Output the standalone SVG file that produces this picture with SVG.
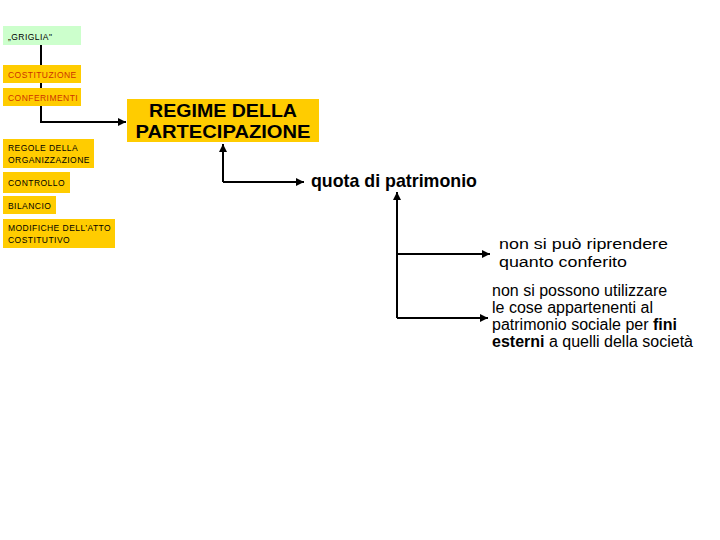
<svg xmlns="http://www.w3.org/2000/svg" width="720" height="540" viewBox="0 0 720 540">
<defs>
<marker id="ah" viewBox="0 0 10 10" refX="10" refY="5" markerWidth="4" markerHeight="4" orient="auto" markerUnits="strokeWidth">
<path d="M0,0 L10,5 L0,10 z" fill="#000"/>
</marker>
<style>
.box{fill:#ffcc00}
.green{fill:#ccffcc}
.sm{font-family:"Liberation Sans",Arial,sans-serif;font-size:8.5px;letter-spacing:0.45px;fill:#000}
.red{fill:#cc3300}
.big{font-family:"Liberation Sans",Arial,sans-serif;font-size:18px;font-weight:bold;fill:#000;text-anchor:middle}
.q{font-family:"Liberation Sans",Arial,sans-serif;font-size:17.8px;font-weight:bold;fill:#000}
.t{font-family:"Liberation Sans",Arial,sans-serif;font-size:16px;fill:#000}
.t2{font-family:"Liberation Sans",Arial,sans-serif;font-size:15.5px;fill:#000}
.ln{stroke:#000;stroke-width:2;fill:none}
</style>
</defs>
<rect width="720" height="540" fill="#fff"/>
<g id="connectors">
<line class="ln" x1="41" y1="45" x2="41" y2="66"/>
<line class="ln" x1="41" y1="83" x2="41" y2="88"/>
<path class="ln" d="M41,106 V122 H126" marker-end="url(#ah)"/>
<path class="ln" d="M223,182 V144" marker-end="url(#ah)"/>
<path class="ln" d="M223,182 H304" marker-end="url(#ah)"/>
<path class="ln" d="M397,318 V192" marker-end="url(#ah)"/>
<path class="ln" d="M397,254 H490" marker-end="url(#ah)"/>
<path class="ln" d="M397,318 H488" marker-end="url(#ah)"/>
</g>
<g id="griglia"><rect class="green" x="3" y="26" width="78" height="19"/><text class="sm" x="8" y="40">„GRIGLIA"</text></g>
<g id="costituzione"><rect class="box" x="3" y="65" width="78" height="18"/><text class="sm red" x="8" y="78">COSTITUZIONE</text></g>
<g id="conferimenti"><rect class="box" x="3" y="88" width="78" height="18"/><text class="sm red" x="8" y="101">CONFERIMENTI</text></g>
<g id="regime"><rect class="box" x="127" y="99" width="192" height="43"/><text class="big" x="223" y="117" textLength="148" lengthAdjust="spacingAndGlyphs">REGIME DELLA</text><text class="big" x="223" y="138" textLength="175" lengthAdjust="spacingAndGlyphs">PARTECIPAZIONE</text></g>
<g id="regole"><rect class="box" x="3" y="139" width="91" height="29"/><text class="sm" x="8" y="151">REGOLE DELLA</text><text class="sm" x="8" y="163">ORGANIZZAZIONE</text></g>
<g id="controllo"><rect class="box" x="3" y="172" width="67" height="21"/><text class="sm" x="8" y="186">CONTROLLO</text></g>
<g id="bilancio"><rect class="box" x="3" y="196" width="53" height="18"/><text class="sm" x="8" y="209">BILANCIO</text></g>
<g id="modifiche"><rect class="box" x="3" y="219" width="112" height="29"/><text class="sm" x="8" y="231">MODIFICHE DELL’ATTO</text><text class="sm" x="8" y="243">COSTITUTIVO</text></g>
<g id="quota"><text class="q" x="311" y="187">quota di patrimonio</text></g>
<g id="riprendere"><text class="t2" x="499" y="249" textLength="169" lengthAdjust="spacingAndGlyphs">non si può riprendere</text><text class="t2" x="499" y="267" textLength="128" lengthAdjust="spacingAndGlyphs">quanto conferito</text></g>
<g id="utilizzare"><text class="t" x="492" y="296">non si possono utilizzare</text><text class="t" x="492" y="313">le cose appartenenti al</text><text class="t" x="492" y="330">patrimonio sociale per <tspan font-weight="bold">fini</tspan></text><text class="t" x="492" y="347"><tspan font-weight="bold">esterni</tspan> a quelli della società</text></g>
</svg>
